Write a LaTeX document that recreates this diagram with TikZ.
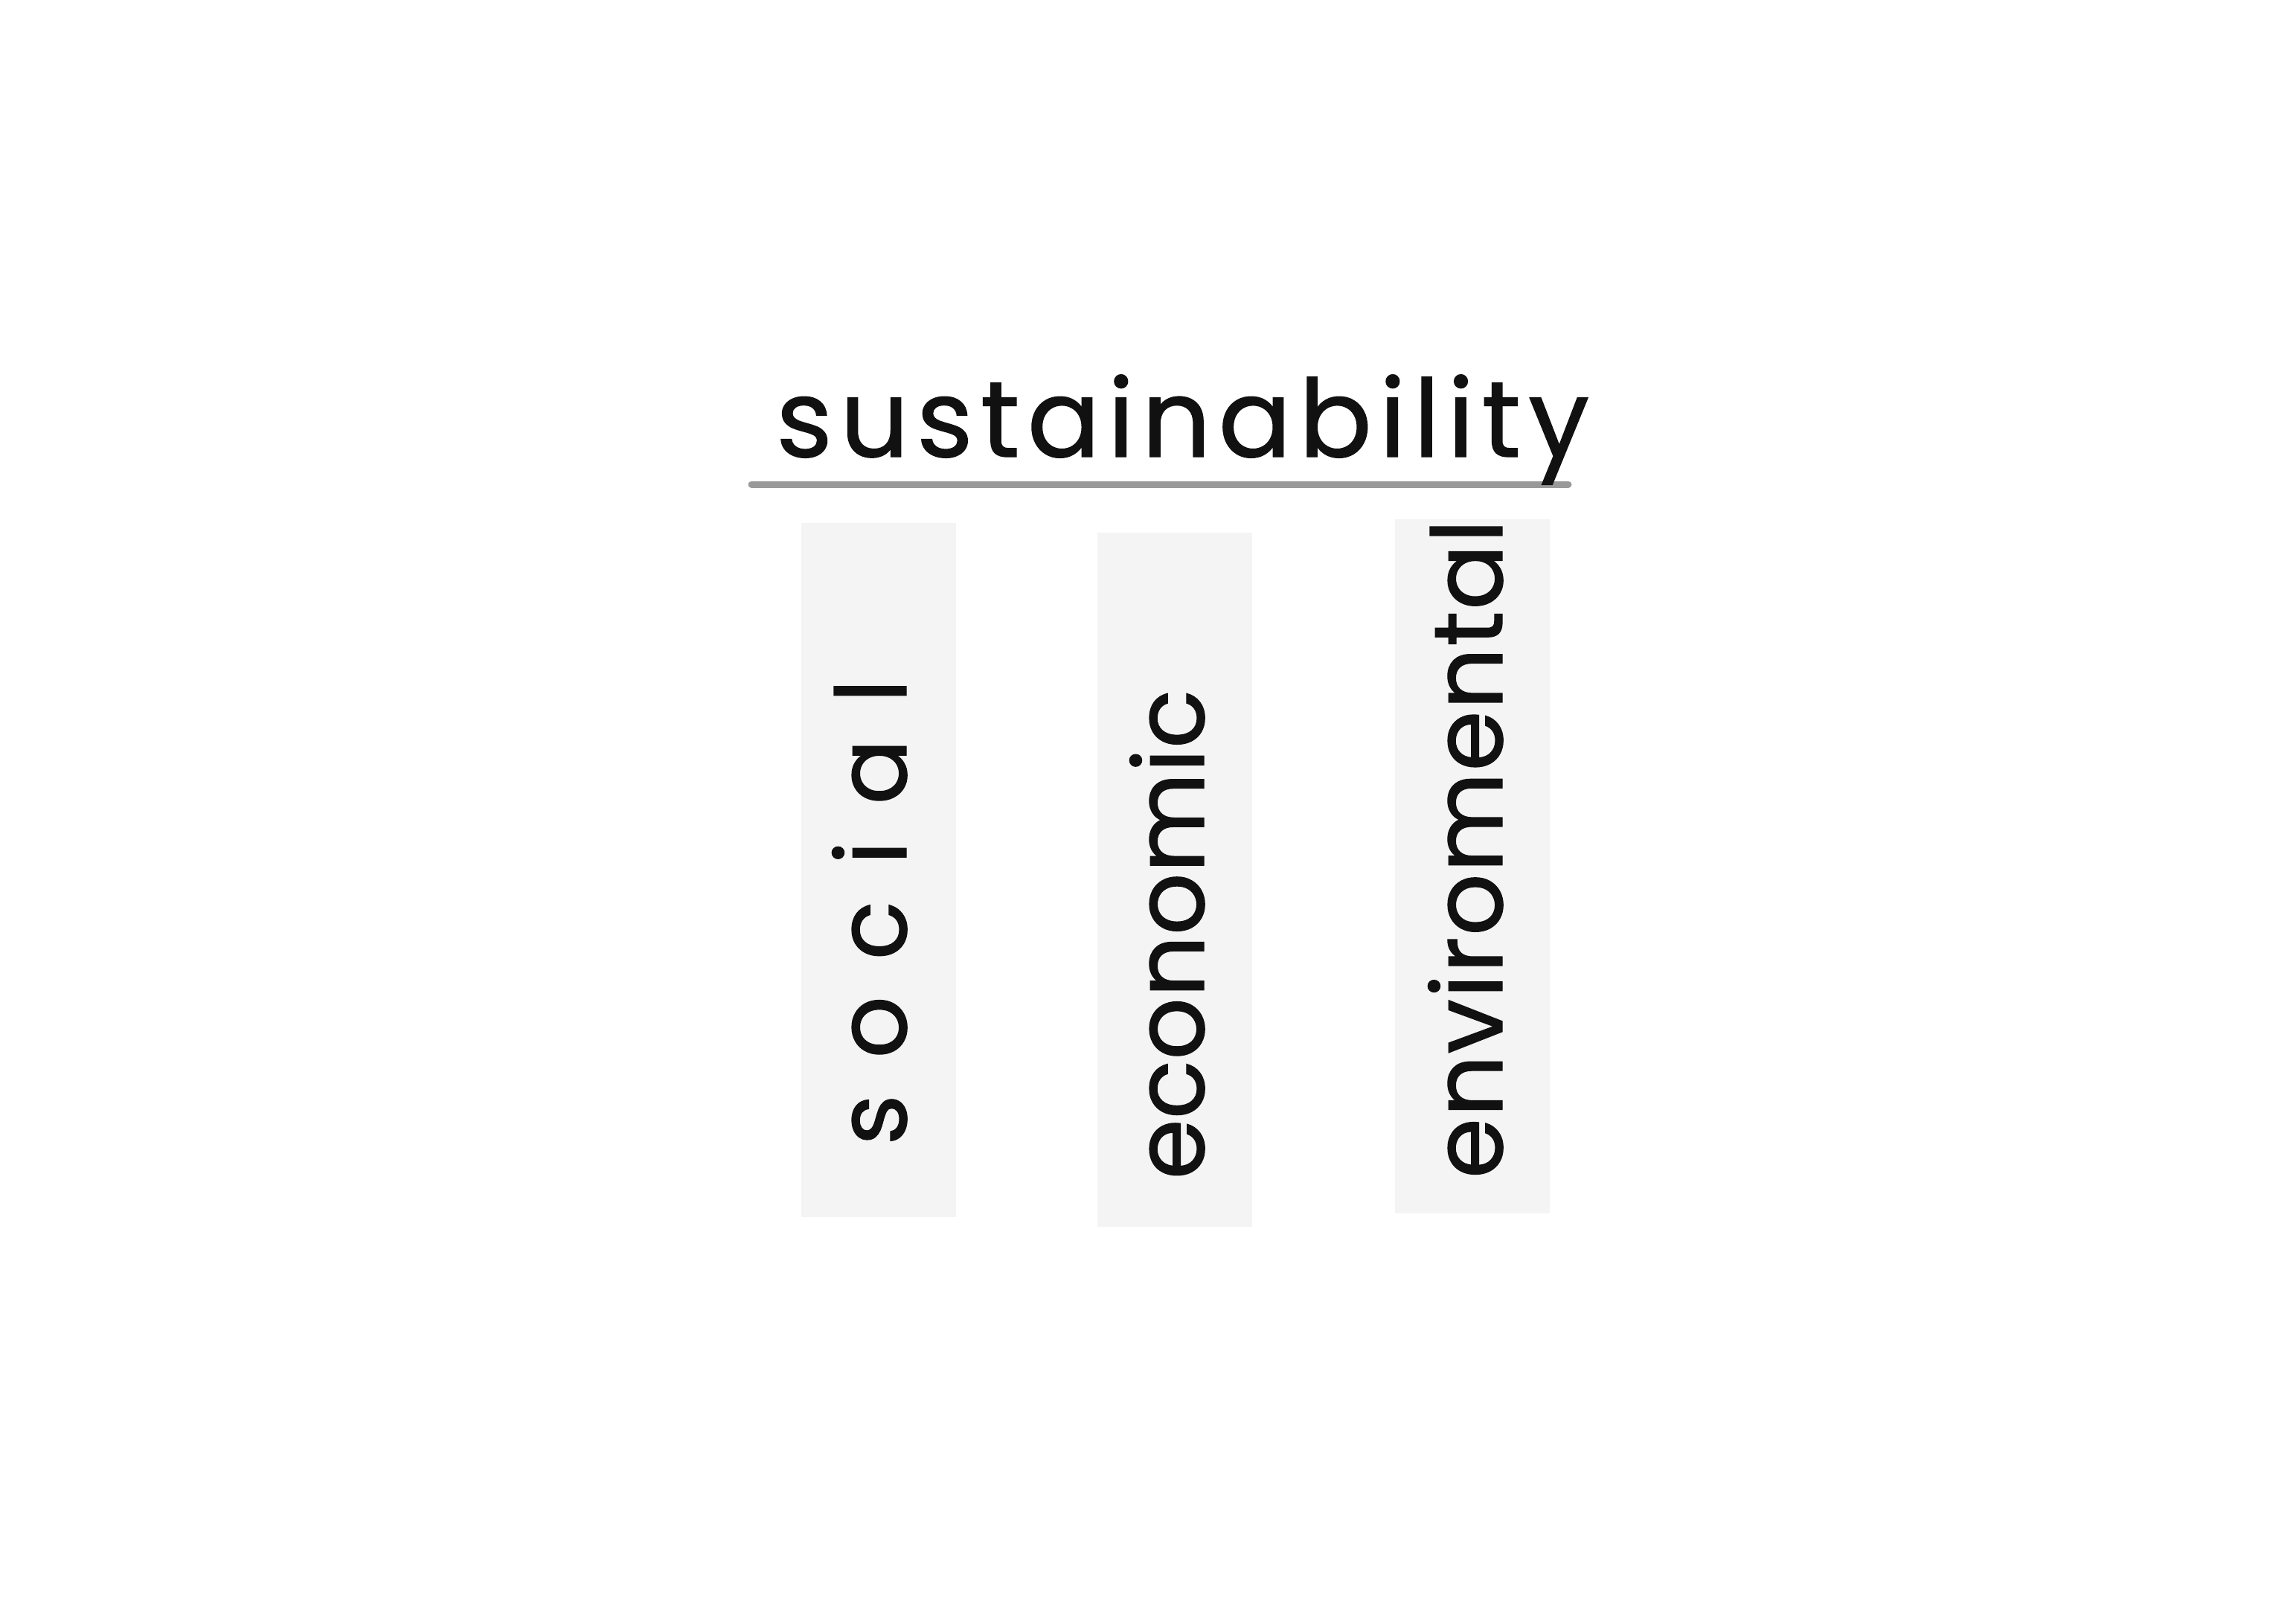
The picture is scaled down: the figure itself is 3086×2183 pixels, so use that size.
\documentclass[tikz,border=0pt]{standalone}
\usepackage{fontspec}
\newfontfamily\handtitle{Poppins}[LetterSpace=7,FakeBold=1]
\newfontfamily\handsoc{Poppins}[LetterSpace=37,FakeBold=1]
\newfontfamily\handeco{Poppins}[LetterSpace=0,FakeBold=1]
\newfontfamily\handenv{Poppins}[LetterSpace=1,FakeBold=1]
\definecolor{ink}{HTML}{111111}
\definecolor{pillarfill}{HTML}{F4F4F4}
\definecolor{rulegray}{HTML}{999999}
\begin{document}
\begin{tikzpicture}[x=1pt,y=-1pt,
  pillar/.style={fill=pillarfill,draw=none,inner sep=0pt,minimum width=208pt,minimum height=933pt},
  titletext/.style={inner sep=0pt,text=ink,font=\handtitle\fontsize{145}{170}\selectfont},
  pillartext/.style={inner sep=0pt,text=ink,rotate=90,anchor=base},
  baseline rule/.style={draw=rulegray,line width=9pt,line cap=round}]
\useasboundingbox (0,0) rectangle (3086,2183);
% pillars
\node[pillar] (socbox) at (1181,1169.5) {};
\node[pillar] (ecobox) at (1578.5,1182.5) {};
\node[pillar] (envbox) at (1978.5,1164.5) {};
% underline
\coordinate (ruleL) at (1010,651);
\coordinate (ruleR) at (2108,651);
\draw[baseline rule] (ruleL) -- (ruleR);
% title
\node[titletext,anchor=base west] (title) at (1043,614) {sustainability};
% labels
\node[pillartext,font=\handsoc\fontsize{131}{150}\selectfont] (soc) at (1218,1226) {social};
\node[pillartext,font=\handeco\fontsize{131}{150}\selectfont] (eco) at (1618,1256) {economic};
\node[pillartext,font=\handenv\fontsize{131}{150}\selectfont] (env) at (2019,1141) {enviromental};
\end{tikzpicture}
\end{document}
